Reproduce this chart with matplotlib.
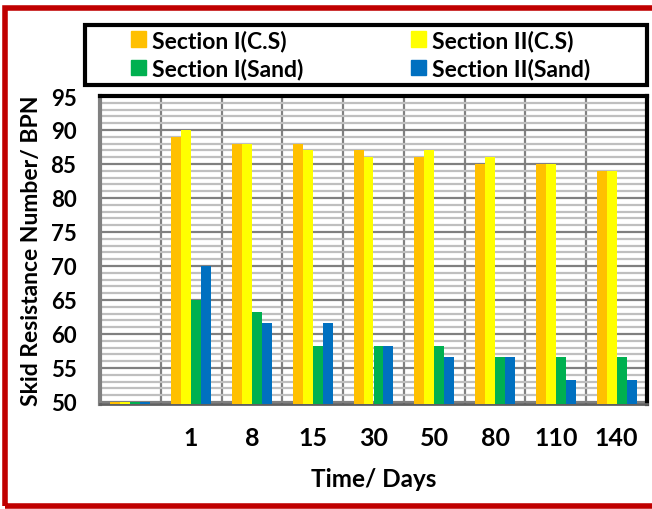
import numpy as np
import matplotlib
matplotlib.use("Agg")
import matplotlib.pyplot as plt
from matplotlib.patches import Rectangle, Patch

plt.rcParams['font.family'] = ['Lato', 'DejaVu Sans']
plt.rcParams['font.weight'] = 'bold'

days = ['', '1', '8', '15', '30', '50', '80', '110', '140']
sec1_cs = [50, 89, 88, 88, 87, 86, 85, 85, 84]
sec2_cs = [50, 90, 88, 87, 86, 87, 86, 85, 84]
sec1_sand = [50, 65, 63.2, 58.2, 58.2, 58.2, 56.6, 56.6, 56.6]
sec2_sand = [50, 70, 61.6, 61.6, 58.2, 56.6, 56.6, 53.2, 53.2]

series = [
    ('Section I(C.S)', sec1_cs, '#FFC000'),
    ('Section II(C.S)', sec2_cs, '#FFFF00'),
    ('Section I(Sand)', sec1_sand, '#00B050'),
    ('Section II(Sand)', sec2_sand, '#0070C0'),
]

W, H = 652, 510
fig = plt.figure(figsize=(W / 100, H / 100), dpi=100)
ax = fig.add_axes([100 / W, 1 - 405 / H, 547 / W, 308 / H])

x = np.arange(len(days))
w = 0.164
for i, (name, vals, col) in enumerate(series):
    ax.bar(x + (i - 1.5) * w, vals, w, color=col, label=name, zorder=3)

ax.set_ylim(49.7, 95)
ax.set_xlim(-0.5, len(days) - 0.5)
ax.set_yticks(np.arange(50, 96, 5))
ax.set_yticks(np.arange(50, 96, 1), minor=True)
ax.set_xticks(x)
ax.set_xticklabels(days)
ax.set_xticks(x[:-1] + 0.5, minor=True)

ax.grid(which='minor', axis='y', color='#BFBFBF', lw=1.6, zorder=0)
ax.grid(which='major', axis='y', color='#808080', lw=1.6, zorder=0)
ax.grid(which='minor', axis='x', color='#808080', lw=1.6, zorder=0)

ax.tick_params(axis='both', which='both', length=0)
ax.tick_params(axis='x', pad=16, labelsize=18)
ax.tick_params(axis='y', pad=17, labelsize=16)

ax.spines['top'].set_color('black')
ax.spines['top'].set_linewidth(3)
ax.spines['right'].set_color('black')
ax.spines['right'].set_linewidth(3)
ax.spines['left'].set_color('#808080')
ax.spines['left'].set_linewidth(3)
ax.spines['bottom'].set_color('#606060')
ax.spines['bottom'].set_linewidth(2)

ax.set_ylabel('Skid Resistance Number/ BPN', fontsize=16.5, fontweight='bold', labelpad=6)
ax.set_xlabel('Time/ Days', fontsize=17.5, fontweight='bold', labelpad=13)

# legend: two columns placed by hand inside a drawn frame
handles = [Patch(color=c) for _, _, c in series]
for col, xpix in ((0, 131), (1, 411)):
    idx = [col, col + 2]
    fig.legend([handles[k] for k in idx], [series[k][0] for k in idx],
               loc='center left', bbox_to_anchor=(xpix / W, 1 - 55.4 / H),
               frameon=False, fontsize=16.5, borderpad=0, borderaxespad=0,
               handlelength=0.66, handleheight=0.66, handletextpad=0.26,
               labelspacing=0.3)

fig.patches.append(Rectangle((85 / W, 1 - 86 / H), 562 / W, 60 / H, transform=fig.transFigure,
                             fill=False, edgecolor='black', lw=3))
fig.patches.append(Rectangle((5 / W, 3 / H), 1.0, 498 / H, transform=fig.transFigure,
                             fill=False, edgecolor='#C00000', lw=4))

fig.savefig('out.png', dpi=100)
